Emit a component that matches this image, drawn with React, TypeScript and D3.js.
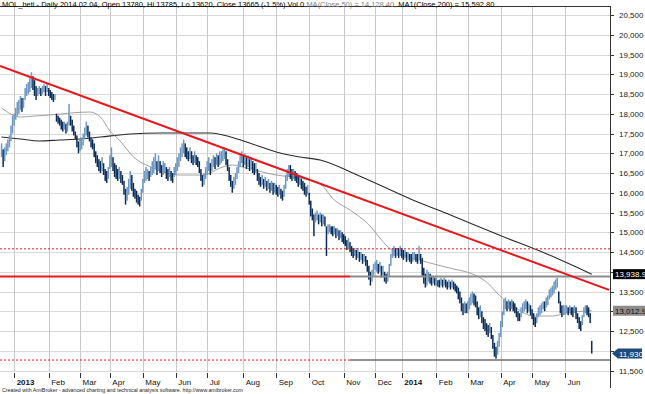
import React, { useEffect } from "react";
import * as d3 from "d3";

// daily bars [low, high] per month (Dec 2012 .. Jun 2014)
const dec12 = [[16900,17250],[16650,17100],[16800,17150],[16950,17250],[17050,17350],[17150,17450],[17300,17700],[17500,17950]];
const jan13 = [[17700,18000],[17850,18150],[17950,18300],[18000,18350],[18100,18450],[18050,18400],[18150,18400],[18350,18650],[18450,18750],[18500,18800],[18550,18900],[18650,19050],[18600,18950],[18450,18850],[18350,18700],[18450,18650],[18500,18700],[18450,18650],[18500,18700],[18550,18750],[18450,18700],[18550,18750]];
const feb13 = [[18450,18650],[18400,18600],[18350,18550],[18300,18500],[18350,18500],[17800,18000],[17750,17950],[17700,17900],[17600,17850],[17550,17800],[17600,17800],[17500,17750],[17550,17800],[17700,18250],[17700,17950],[17550,17850],[17450,17700],[17350,17550],[17150,17450],[17000,17300]];
const mar13 = [[17050,17350],[17100,17400],[17200,17500],[17350,17650],[17450,17800],[17400,17700],[17300,17550],[17150,17400],[17100,17350],[16900,17250],[16750,17050],[16650,16950],[16550,16850],[16500,16800],[16550,16900],[16450,16750],[16300,16600],[16250,16550],[16350,16650]];
const apr13 = [[16600,16950],[16650,17150],[16550,16900],[16400,16750],[16350,16700],[16300,16600],[16350,16650],[16250,16550],[16200,16450],[15950,16300],[15700,16100],[15800,16150],[15950,16350],[16100,16550],[16050,16450],[15900,16250],[15850,16100],[15750,16050],[15700,15950],[15650,15900],[15800,16100]];
const may13 = [[16000,16350],[16250,16550],[16300,16650],[16350,16600],[16300,16550],[16400,16650],[16450,16800],[16500,16900],[16600,17000],[16450,16800],[16550,16950],[16500,16800],[16400,16700],[16450,16800],[16500,16750],[16350,16650],[16300,16600],[16400,16650],[16300,16550],[16250,16500],[16400,16650]];
const jun13 = [[16450,16750],[16550,16900],[16650,17000],[16800,17150],[16900,17250],[17000,17350],[16900,17250],[16850,17150],[16800,17050],[16850,17150],[16750,17050],[16700,16950],[16750,17050],[16700,16950],[16650,16900],[16500,16800],[16300,16600],[16150,16450],[16200,16500],[16350,16650]];
const jul13 = [[16450,16800],[16550,16900],[16450,16750],[16550,16850],[16650,16950],[16600,16900],[16700,17000],[16650,16950],[16700,17050],[16750,17050],[16800,17100],[16850,17150],[16700,17050],[16550,16850],[16300,16650],[16150,16450],[16000,16300],[16100,16400],[16200,16500],[16350,16650],[16500,16800],[16650,16950],[16750,17050]];
const aug13 = [[16650,16950],[16700,17000],[16600,16900],[16650,16950],[16550,16850],[16600,16900],[16500,16800],[16450,16750],[16500,16750],[16300,16600],[16200,16500],[16150,16400],[16200,16450],[16100,16350],[16150,16400],[16050,16300],[16100,16350],[16000,16250],[16050,16300],[15950,16250],[16000,16250]];
const sep13 = [[15950,16200],[15900,16150],[15950,16200],[15850,16100],[15800,16050],[15900,16200],[16100,16450],[16300,16600],[16400,16700],[16350,16700],[16300,16600],[16350,16600],[16300,16550],[16250,16500],[16150,16450],[16200,16400],[16100,16350],[16050,16300],[15950,16250],[15900,16150],[15950,16200]];
const oct13 = [[15700,16000],[15400,15800],[15300,15600],[14900,15450],[15250,15500],[15300,15550],[15200,15450],[15250,15500],[15150,15450],[15200,15450],[15150,15400],[14400,15150],[14950,15200],[15000,15200],[14950,15150],[14900,15150],[14950,15150],[14850,15100],[14900,15100],[14800,15050],[14850,15050],[14750,15000]];
const nov13 = [[14700,14950],[14650,14900],[14550,14800],[14600,14850],[14500,14750],[14400,14650],[14350,14600],[14400,14600],[14300,14550],[14350,14600],[14250,14500],[14300,14500],[14200,14450],[14250,14450],[14150,14400],[14000,14300],[13800,14150],[13650,14000],[13750,14050],[13900,14200]];
const dec13 = [[14050,14250],[14000,14300],[13950,14200],[14000,14250],[13850,14150],[13900,14150],[13750,14000],[13700,13950],[13750,14000],[13900,14200],[14150,14450],[14350,14600],[14400,14650],[14350,14600],[14400,14600],[14350,14600],[14400,14650]];
const jan14 = [[14350,14600],[14300,14550],[14350,14550],[14250,14500],[14300,14500],[14250,14450],[14200,14450],[14250,14500],[14300,14500],[14250,14450],[14200,14450],[14300,14650],[14200,14450],[13900,14350],[13700,14100],[13600,13950],[13650,14050],[13750,14000],[13700,13950],[13650,13900],[13700,13900],[13650,13850]];
const feb14 = [[13650,13850],[13620,13785],[13600,13800],[13650,13850],[13600,13800],[13650,13850],[13600,13800],[13550,13750],[13600,13800],[13550,13750],[13600,13800],[13550,13750],[13500,13700],[13450,13650],[13300,13600],[13200,13500],[13000,13350],[12900,13200],[12950,13250],[12950,13200]];
const mar14 = [[12950,13250],[13050,13350],[13150,13450],[13200,13500],[13150,13450],[13100,13400],[12900,13250],[12800,13100],[12850,13150],[12700,13000],[12550,12850],[12500,12800],[12400,12700],[12350,12650],[12450,12700],[12300,12600],[12050,12400],[11850,12200],[11800,12100],[11900,12250],[12100,12450]];
const apr14 = [[12350,12750],[12600,13000],[12900,13300],[13050,13350],[13000,13250],[13050,13300],[13000,13250],[13050,13300],[13000,13250],[12950,13200],[12850,13100],[12750,13000],[12750,12950],[12850,13100],[12950,13200],[13000,13250],[13050,13300],[12950,13250],[13000,13200],[12900,13150]];
const may14 = [[12800,13050],[12650,12950],[12600,12850],[12700,12950],[12850,13100],[12900,13150],[12950,13200],[13050,13250],[13000,13250],[13100,13350],[13150,13400],[13300,13550],[13350,13600],[13400,13650],[13450,13750],[13550,13800],[13600,13850],[13200,13500],[12950,13250],[12850,13150],[12900,13150]];
const jun14 = [[12900,13150],[12950,13150],[12900,13100],[12950,13150],[12900,13100],[12850,13100],[12950,13150],[12800,13100],[12700,12950],[12550,12850],[12500,12750],[12650,12900],[12850,13100],[12950,13150],[12900,13150],[12850,13100],[12700,12950],[11930,12250]];

const monthBars = [dec12, jan13, feb13, mar13, apr13, may13, jun13, jul13, aug13, sep13, oct13, nov13, dec13, jan14, feb14, mar14, apr14, may14, jun14];
const monthLabels = ["", "2013", "Feb", "Mar", "Apr", "May", "Jun", "Jul", "Aug", "Sep", "Oct", "Nov", "Dec", "2014", "Feb", "Mar", "Apr", "May", "Jun"];

// moving averages, [bar index, value]
const ma50 = [[0,18145],[12,17918],[21,17943],[31,17968],[44,18019],[56,18044],[63,17918],[69,17563],[75,17335],[84,16905],[95,16652],[114,16449],[128,16449],[141,16652],[147,16702],[156,16626],[175,16449],[190,16373],[203,16221],[212,15816],[222,15563],[233,15230],[247,14601],[260,14373],[273,14221],[287,14080],[300,13943],[309,13740],[317,13411],[326,13132],[339,12879],[351,12879],[360,12955],[376,13012.9]];
const ma200 = [[0,17411],[12,17360],[24,17310],[37,17335],[50,17360],[63,17411],[82,17487],[101,17512],[120,17512],[133,17512],[146,17411],[158,17259],[175,17031],[190,16905],[203,16829],[228,16424],[262,15816],[286,15436],[317,14930],[349,14424],[376,13938.9]];

// drawn studies
const trendLine = [[-1, 19210], [387, 13540]];
const dottedLevel = 14580;
const supportLevel = 13880;
const lowLevel = 11765;
const studySplitBar = 222;

const priceTicks = [11500, 12000, 12500, 13000, 13500, 14000, 14500, 15000, 15500, 16000, 16500, 17000, 17500, 18000, 18500, 19000, 19500, 20000, 20500];
const lastClose = 11930;

const W = 645;
const H = 394;
const plotTop = 6;
const plotBottom = 372;
const axisX = 610;

const x = d3.scaleLinear().domain([-1, 387]).range([0, 609]);
const y = d3.scaleLinear().domain([11500, 20500]).range([370.5, 15]);

const red = "#e8161c";
const darkBar = "#0c2c58";
const lightBar = "#6f98c2";

const App = () => {
  useEffect(() => {
    document.body.style.margin = "0";
  }, []);

  const bars = monthBars.flat();
  const monthStarts = [];
  let acc = 0;
  monthBars.forEach((m) => {
    monthStarts.push(acc);
    acc += m.length;
  });

  const maLine = d3
    .line()
    .x((d) => x(d[0]))
    .y((d) => y(d[1]))
    .curve(d3.curveMonotoneX);

  const fmtTick = d3.format(",");
  const fmtMa = d3.format(",.1f");
  const font = "'Liberation Sans', Arial, sans-serif";

  const lastY = y(lastClose);
  const ma200Last = ma200[ma200.length - 1][1];
  const ma50Last = ma50[ma50.length - 1][1];
  const markerYs = [y(ma200Last), y(ma50Last), lastY];
  // tick labels hidden behind the value markers, as in the reference
  const visibleTick = (t) => markerYs.every((my) => Math.abs(my - y(t)) > 9);

  return (
    <div style={{ position: "absolute", left: 0, top: 0 }}>
      <svg width={W} height={H} style={{ display: "block" }} fontFamily={font}>
        <rect width={W} height={H} fill="#fff" />
        <defs>
          <clipPath id="plotClip">
            <rect x={0} y={plotTop} width={axisX} height={plotBottom - plotTop} />
          </clipPath>
        </defs>

        {/* grid */}
        <g stroke="#dadada" strokeWidth={1}>
          {priceTicks.map((t) => (
            <line key={"h" + t} x1={0} x2={axisX} y1={Math.round(y(t)) + 0.5} y2={Math.round(y(t)) + 0.5} />
          ))}
          {monthStarts.slice(1).map((s) => (
            <line key={"v" + s} x1={Math.round(x(s)) + 0.5} x2={Math.round(x(s)) + 0.5} y1={plotTop} y2={plotBottom} stroke="#c9c9c9" />
          ))}
        </g>

        <g clipPath="url(#plotClip)">
          {/* moving averages */}
          <path d={maLine(ma200)} fill="none" stroke="#2b2b2b" strokeWidth={1.1} />
          <path d={maLine(ma50)} fill="none" stroke="#8a8a8a" strokeWidth={0.8} />

          {/* bars */}
          {bars.map((b, i) => {
            const prev = i > 0 ? bars[i - 1] : b;
            const up = b[0] + b[1] >= prev[0] + prev[1];
            return (
              <rect
                key={i}
                x={x(i) - 0.75}
                width={1.5}
                y={y(b[1])}
                height={Math.max(1, y(b[0]) - y(b[1]))}
                fill={up ? lightBar : darkBar}
              />
            );
          })}

          {/* horizontal studies */}
          <line x1={0} x2={axisX} y1={y(dottedLevel)} y2={y(dottedLevel)} stroke={red} strokeWidth={1} strokeDasharray="2,2" />
          <line x1={0} x2={x(studySplitBar)} y1={y(supportLevel)} y2={y(supportLevel)} stroke={red} strokeWidth={2} />
          <line x1={x(studySplitBar)} x2={axisX} y1={y(supportLevel)} y2={y(supportLevel)} stroke="#8c8c8c" strokeWidth={2} />
          <line x1={0} x2={x(studySplitBar)} y1={y(lowLevel)} y2={y(lowLevel)} stroke={red} strokeWidth={1} strokeDasharray="2,2" />
          <line x1={x(studySplitBar)} x2={axisX} y1={y(lowLevel)} y2={y(lowLevel)} stroke="#6e6e6e" strokeWidth={1.5} />

          {/* trend line */}
          <line
            x1={x(trendLine[0][0])}
            y1={y(trendLine[0][1])}
            x2={x(trendLine[1][0])}
            y2={y(trendLine[1][1])}
            stroke={red}
            strokeWidth={2}
          />
        </g>

        {/* frame */}
        <line x1={0} x2={axisX} y1={plotTop + 0.5} y2={plotTop + 0.5} stroke="#333" strokeWidth={1} />
        <line x1={axisX + 0.5} x2={axisX + 0.5} y1={plotTop} y2={388} stroke="#333" strokeWidth={1} />

        {/* right axis */}
        {priceTicks.map((t) => (
          <g key={"t" + t}>
            <line x1={axisX} x2={axisX + 4} y1={Math.round(y(t)) + 0.5} y2={Math.round(y(t)) + 0.5} stroke="#333" />
            {visibleTick(t) && (
              <text x={619} y={y(t) + 3} fontSize={8} fill="#222">
                {fmtTick(t)}
              </text>
            )}
          </g>
        ))}

        {/* value markers */}
        <rect x={613} y={y(ma200Last) - 5} width={34} height={10} fill="#000" />
        <text x={615} y={y(ma200Last) + 3} fontSize={8} fill="#fff">
          {fmtMa(ma200Last)}
        </text>
        <rect x={613} y={y(ma50Last) - 5} width={34} height={10} fill="#8c8c8c" />
        <text x={615} y={y(ma50Last) + 3} fontSize={8} fill="#111">
          {fmtMa(ma50Last)}
        </text>
        <path
          d={`M612,${lastY} L618,${lastY - 5} L642,${lastY - 5} L642,${lastY + 5} L618,${lastY + 5} Z`}
          fill="#1d4b7a"
        />
        <text x={619} y={lastY + 3} fontSize={8} fill="#fff">
          {fmtTick(lastClose)}
        </text>

        {/* month axis */}
        {monthStarts.map((s, k) =>
          monthLabels[k] ? (
            <g key={"m" + k}>
              <line x1={Math.round(x(s)) + 0.5} x2={Math.round(x(s)) + 0.5} y1={373} y2={378} stroke="#333" />
              <text
                x={x(s) + 2.5}
                y={384.5}
                fontSize={8}
                fontWeight={monthLabels[k].length === 4 ? "bold" : "normal"}
                fill="#111"
              >
                {monthLabels[k]}
              </text>
            </g>
          ) : null
        )}

        {/* title */}
        <text x={2} y={6.5} fontSize={7.5}>
          <tspan fill="#000">MOL_heti - Daily 2014.02.04, Open 13780, Hi 13785, Lo 13620, Close 13665 (-1.5%) Vol 0 </tspan>
          <tspan fill="#808080">MA(Close,50) = 14,128.40, </tspan>
          <tspan fill="#000">MA1(Close,200) = 15,592.80</tspan>
        </text>

        {/* footer */}
        <text x={2} y={392} fontSize={6} fill="#222" textLength={241} lengthAdjust="spacingAndGlyphs">
          Created with AmiBroker - advanced charting and technical analysis software. http://www.amibroker.com
        </text>
      </svg>
    </div>
  );
};

export default App;
